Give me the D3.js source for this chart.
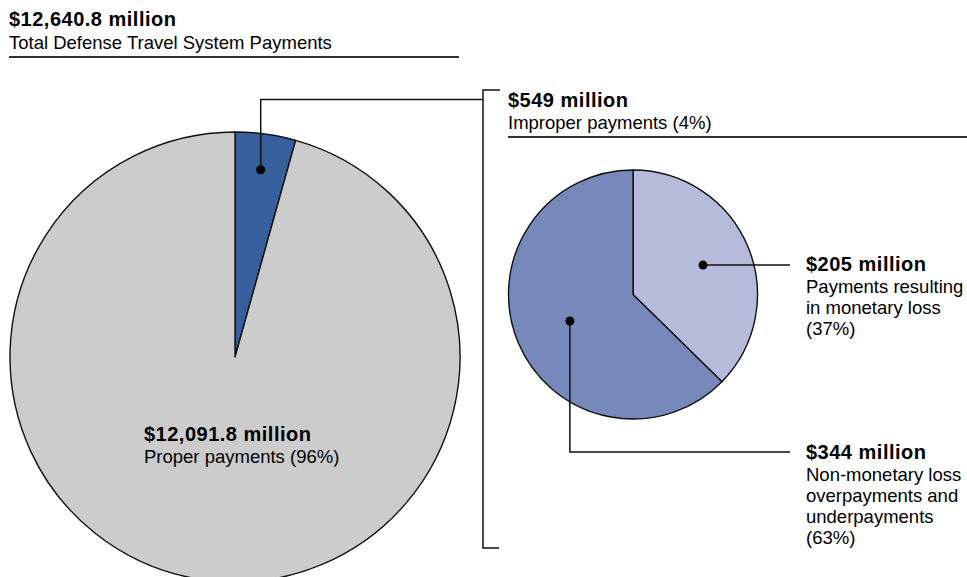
<!DOCTYPE html>
<html>
<head>
<meta charset="utf-8">
<script src="https://cdn.jsdelivr.net/npm/d3@7/dist/d3.min.js"></script>
<style>
  html, body { margin: 0; padding: 0; background: #fff; }
  svg { display: block; font-family: "Liberation Sans", Arial, Helvetica, sans-serif; }
  .bold { font-weight: bold; font-size: 20px; letter-spacing: 0.5px; fill: #000; }
  .reg { font-size: 18.5px; fill: #000; }
</style>
</head>
<body>
<svg id="chart" width="967" height="577"></svg>
<script>
// ---- data ----
const totalLabel = ["$12,640.8 million", "Total Defense Travel System Payments"];
const mainCategories = ["Improper payments", "Proper payments"];
const mainValues = [549, 12091.8];
const mainColors = ["#365f9c", "#cccccc"];
const mainLabels = [
  ["$549 million", "Improper payments (4%)"],
  ["$12,091.8 million", "Proper payments (96%)"]
];
const subCategories = ["Payments resulting in monetary loss", "Non-monetary loss overpayments and underpayments"];
const subValues = [205, 344];
const subColors = ["#b7bbdb", "#7788ba"];
const subLabels = [
  ["$205 million", "Payments resulting", "in monetary loss", "(37%)"],
  ["$344 million", "Non-monetary loss", "overpayments and", "underpayments", "(63%)"]
];

const svg = d3.select("#chart");

// ---- title ----
const title = svg.append("g");
title.append("text").attr("class", "bold").attr("x", 9).attr("y", 26).text(totalLabel[0]);
title.append("text").attr("class", "reg").attr("x", 9).attr("y", 49).text(totalLabel[1]);
title.append("line").attr("x1", 9).attr("x2", 459).attr("y1", 57).attr("y2", 57)
  .attr("stroke", "#333").attr("stroke-width", 2);

// ---- main pie ----
const pie = d3.pie().sort(null).value(d => d);
const R = 225, cx = 235, cy = 357;
const mainArcs = pie(mainValues);
const arcMain = d3.arc().innerRadius(0).outerRadius(R);
const gMain = svg.append("g").attr("transform", `translate(${cx},${cy})`);
gMain.selectAll("path").data(mainArcs).join("path")
  .attr("d", arcMain)
  .attr("fill", (d, i) => mainColors[i])
  .attr("stroke", "#111").attr("stroke-width", 1.4).attr("stroke-linejoin", "round");

// leader dot for improper slice
const dotArc = d3.arc().innerRadius(R * 0.84).outerRadius(R * 0.84);
const [ix, iy] = dotArc.centroid(mainArcs[0]);
const dot1 = [cx + ix, cy + iy];
const bracketX = 483;
const leaderY = 99.5;
svg.append("path")
  .attr("d", `M${dot1[0]},${dot1[1]} V${leaderY} H${bracketX}`)
  .attr("fill", "none").attr("stroke", "#111").attr("stroke-width", 1.5);
svg.append("circle").attr("cx", dot1[0]).attr("cy", dot1[1]).attr("r", 4.5).attr("fill", "#000");

// bracket
svg.append("path")
  .attr("d", `M500,90 H${bracketX} V548 H499`)
  .attr("fill", "none").attr("stroke", "#111").attr("stroke-width", 1.5);

// proper label (inside)
const pl = svg.append("g");
pl.append("text").attr("class", "bold").attr("x", 144).attr("y", 441).text(mainLabels[1][0]);
pl.append("text").attr("class", "reg").attr("x", 144).attr("y", 463).text(mainLabels[1][1]);

// improper heading
const il = svg.append("g");
il.append("text").attr("class", "bold").attr("x", 508).attr("y", 107).text(mainLabels[0][0]);
il.append("text").attr("class", "reg").attr("x", 508).attr("y", 129).text(mainLabels[0][1]);
il.append("line").attr("x1", 508).attr("x2", 967).attr("y1", 137).attr("y2", 137)
  .attr("stroke", "#333").attr("stroke-width", 2);

// ---- sub pie ----
const r = 124.5, scx = 633, scy = 294.5;
const subArcs = pie(subValues);
const arcSub = d3.arc().innerRadius(0).outerRadius(r);
const gSub = svg.append("g").attr("transform", `translate(${scx},${scy})`);
gSub.selectAll("path").data(subArcs).join("path")
  .attr("d", arcSub)
  .attr("fill", (d, i) => subColors[i])
  .attr("stroke", "#111").attr("stroke-width", 1.4).attr("stroke-linejoin", "round");

const dotFactors = [0.61, 0.55];
const subDots = subArcs.map((a, i) => {
  const da = d3.arc().innerRadius(r * dotFactors[i]).outerRadius(r * dotFactors[i]);
  const [x, y] = da.centroid(a);
  return [scx + x, scy + y];
});
const labelX = 806, lineEnd = 790;
const labelY = [271, 459];

// leader for monetary loss
svg.append("path")
  .attr("d", `M${subDots[0][0]},${subDots[0][1]} H${lineEnd}`)
  .attr("fill", "none").attr("stroke", "#111").attr("stroke-width", 1.5);
// leader for non-monetary
svg.append("path")
  .attr("d", `M${subDots[1][0]},${subDots[1][1]} V452 H${lineEnd}`)
  .attr("fill", "none").attr("stroke", "#111").attr("stroke-width", 1.5);
subDots.forEach(d => svg.append("circle").attr("cx", d[0]).attr("cy", d[1]).attr("r", 4.5).attr("fill", "#000"));

subLabels.forEach((lines, i) => {
  const g = svg.append("g");
  lines.forEach((t, j) => {
    g.append("text")
      .attr("class", j === 0 ? "bold" : "reg")
      .attr("x", labelX)
      .attr("y", j === 0 ? labelY[i] : labelY[i] + 1 + j * 21)
      .text(t);
  });
});
</script>
</body>
</html>
